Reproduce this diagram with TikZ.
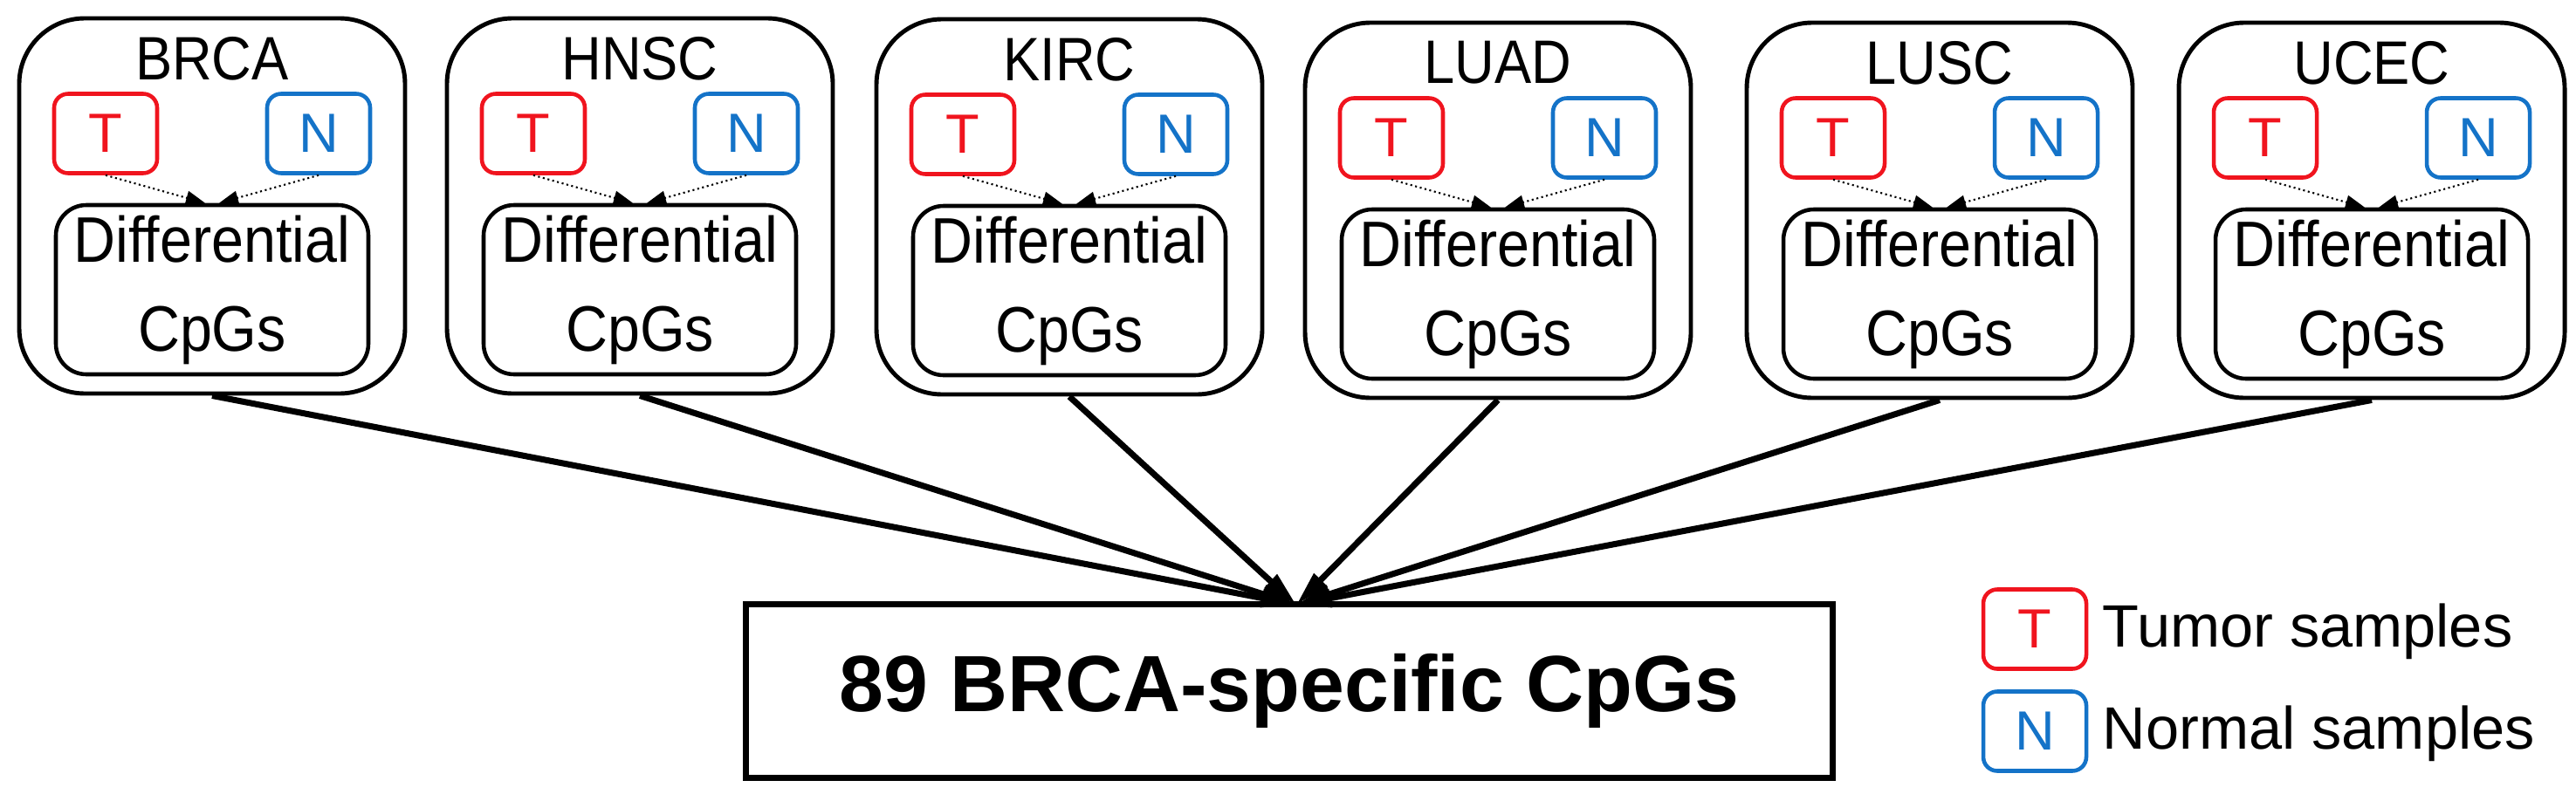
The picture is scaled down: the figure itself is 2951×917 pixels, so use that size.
\documentclass[tikz,border=0pt]{standalone}
\usepackage{fontspec}
\setmainfont{Liberation Sans}
\newfontfamily\narrowfont[FakeStretch=0.9]{Liberation Sans}
\usetikzlibrary{arrows.meta}
\definecolor{tred}{RGB}{240,20,30}
\definecolor{nblue}{RGB}{20,115,200}
\begin{document}
\begin{tikzpicture}[x=0.1mm,y=-0.1mm,
  panel/.style={draw,line width=1.4pt,rounded corners=7.5mm,minimum width=44.2mm,minimum height=43mm,inner sep=0},
  tbox/.style={draw=tred,text=tred,line width=1.3pt,rounded corners=1.6mm,minimum width=11.8mm,minimum height=9.1mm,inner sep=0,font=\fontsize{18}{20}\selectfont},
  nbox/.style={tbox,draw=nblue,text=nblue},
  diff/.style={draw,line width=1.3pt,rounded corners=3.5mm,minimum width=35.8mm,minimum height=19.4mm,align=center,inner sep=0,font=\narrowfont\fontsize{21}{29}\selectfont},
  ttl/.style={font=\narrowfont\fontsize{20}{20}\selectfont,inner sep=0},
  small/.style={densely dotted,line width=0.6pt,-{Triangle[length=2.2mm,width=1.6mm]}},
  big/.style={line width=2pt,-{Triangle[length=4mm,width=2mm]}}]
\useasboundingbox (0,0) rectangle (2951,917);
\foreach \nm/\xo/\yo [count=\i] in {BRCA/23/21,HNSC/513/21,KIRC/1005/22,LUAD/1496/26,LUSC/2002/26,UCEC/2497/26}{
  \node[panel] (p\i) at (\xo+220,\yo+215) {};
  \node[ttl] (h\i) at (\xo+220,\yo+46) {\nm};
  \node[tbox] (t\i) at (\xo+98,\yo+132) {T};
  \node[nbox] (n\i) at (\xo+342,\yo+132) {N};
  \node[diff] (d\i) at (\xo+220,\yo+311) {Differential\\CpGs};
  \draw[small] (t\i.south) -- ([xshift=-0.8mm]d\i.north);
  \draw[small] (n\i.south) -- ([xshift=0.8mm]d\i.north);
}
\node[draw,line width=2pt,minimum width=124.5mm,minimum height=19.9mm,inner sep=0,font=\bfseries\fontsize{26}{30}\selectfont] (res) at (1477,792) {89 BRCA-specific CpGs};
\coordinate (tip) at (1485,693);
\foreach \i in {1,...,6}{\draw[big] (p\i.south) -- (tip);}
\node[tbox] (lt) at (2331,721) {T};
\node[nbox] (ln) at (2331,838) {N};
\node[anchor=west,font=\fontsize{19.5}{22}\selectfont,inner sep=0] (ltt) at (2408,724) {Tumor samples};
\node[anchor=west,font=\fontsize{19.5}{22}\selectfont,inner sep=0] (lnt) at (2408,841) {Normal samples};
\end{tikzpicture}
\end{document}
